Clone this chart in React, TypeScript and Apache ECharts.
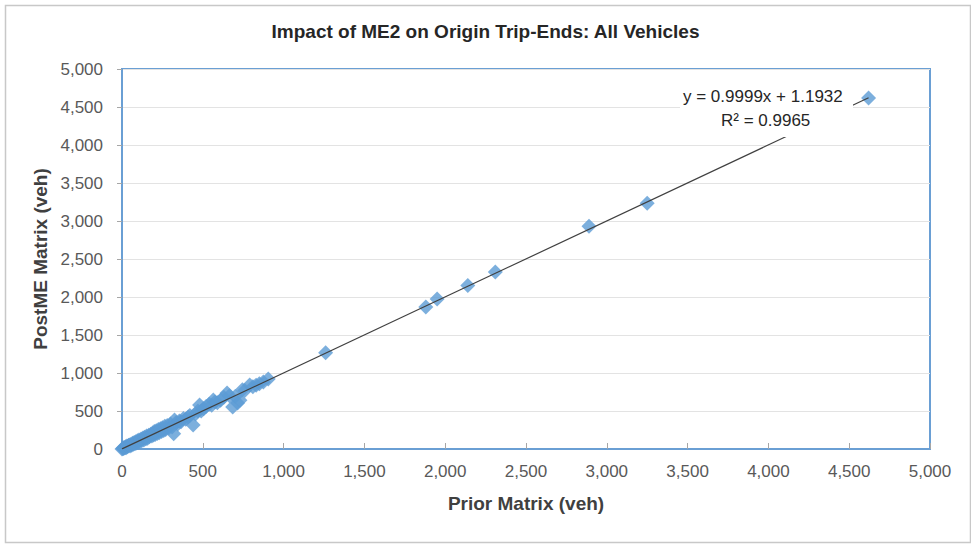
import React, { useEffect, useRef } from "react";
import * as echarts from "echarts";

const chartTitle = "Impact of ME2 on Origin Trip-Ends: All Vehicles";
const xAxisName = "Prior Matrix (veh)";
const yAxisName = "PostME Matrix (veh)";

const priorValues = [
  0, 5, 10, 12, 18, 22, 25, 30, 35, 40, 45, 50, 55, 60, 65, 70, 75, 80, 85, 90, 95, 100,
  105, 110, 118, 122, 130, 135, 140, 148, 152, 158, 165, 170, 178, 185, 190, 195, 200, 205,
  212, 218, 225, 230, 238, 245, 250, 258, 265, 270, 280, 290, 300, 310, 320, 325, 335, 345,
  355, 365, 380, 395, 410, 420, 440, 455, 470, 480, 490, 505, 520, 540, 555, 565, 575, 590,
  610, 630, 650, 665, 685, 700, 715, 730, 745, 760, 790, 810, 830, 850, 875, 905,
  1260, 1880, 1950, 2140, 2310, 2890, 3250, 4620,
];
const postValues = [
  0, 8, 6, 20, 15, 30, 18, 40, 28, 45, 52, 38, 60, 48, 75, 62, 85, 70, 95, 80, 110, 88,
  120, 100, 130, 108, 145, 120, 155, 135, 170, 140, 180, 160, 195, 170, 210, 185, 230, 190,
  240, 205, 255, 215, 265, 230, 280, 245, 300, 255, 310, 280, 330, 290, 200, 380, 350, 330,
  370, 360, 400, 390, 420, 440, 316, 460, 500, 579, 500, 530, 560, 590, 575, 645, 620, 610,
  640, 680, 737, 700, 553, 690, 605, 640, 780, 770, 842, 820, 840, 860, 880, 920,
  1265, 1870, 1975, 2150, 2330, 2930, 3235, 4620,
];

const trendSlope = 0.9999;
const trendIntercept = 1.1932;
const trendText = ["y = 0.9999x + 1.1932", "R² = 0.9965"];

export default function App() {
  const ref = useRef<HTMLDivElement>(null);
  useEffect(() => {
    document.body.style.margin = "0";
    const chart = echarts.init(ref.current!, null, { renderer: "svg" });
    const points = priorValues.map((x, i) => [x, postValues[i]]);
    const xMaxData = Math.max(...priorValues);
    const trend = [
      [0, trendIntercept],
      [xMaxData, trendSlope * xMaxData + trendIntercept],
    ];
    const fmt = (v: number) => v.toLocaleString("en-US");
    const font = "Liberation Sans";
    const axisLabel = { color: "#595959", fontSize: 17, fontFamily: font, formatter: fmt };
    const nameStyle = { fontFamily: font, fontSize: 19, fontWeight: "bold", color: "#404040" };
    chart.setOption({
      animation: false,
      backgroundColor: "#ffffff",
      title: {
        text: chartTitle,
        left: "center",
        top: 17,
        textStyle: { fontFamily: font, fontSize: 19, fontWeight: "bold", color: "#262626" },
      },
      grid: {
        left: 122,
        right: 41,
        top: 69,
        bottom: 95,
        show: true,
        borderColor: "#6a9fd4",
        borderWidth: 2,
      },
      xAxis: {
        type: "value",
        min: 0,
        max: 5000,
        interval: 500,
        name: xAxisName,
        nameLocation: "middle",
        nameGap: 45,
        nameTextStyle: nameStyle,
        axisLine: { show: true, lineStyle: { color: "#6a9fd4", width: 2 } },
        axisTick: { show: true, inside: true, length: 6, lineStyle: { color: "#a6a6a6" } },
        splitLine: { show: false },
        axisLabel: { ...axisLabel, margin: 14 },
      },
      yAxis: {
        type: "value",
        min: 0,
        max: 5000,
        interval: 500,
        name: yAxisName,
        nameLocation: "middle",
        nameGap: 70,
        nameTextStyle: nameStyle,
        axisLine: { show: true, lineStyle: { color: "#6a9fd4", width: 2 } },
        axisTick: { show: true, length: 5, lineStyle: { color: "#a6a6a6" } },
        splitLine: { show: true, lineStyle: { color: "#e3e3e3" } },
        axisLabel: { ...axisLabel, margin: 19 },
      },
      series: [
        {
          type: "scatter",
          data: points,
          symbol: "diamond",
          symbolSize: 15,
          itemStyle: { color: "#5b9bd5" },
          z: 2,
        },
        {
          type: "line",
          data: trend,
          symbol: "none",
          lineStyle: { color: "#404040", width: 1.2 },
          z: 3,
        },
      ],
      graphic: [
        {
          type: "rect",
          left: 3,
          top: 3,
          shape: { width: 965, height: 537 },
          style: { fill: "none", stroke: "#c8c8c8", lineWidth: 1.5 },
          z: -1,
        },
        {
          type: "rect",
          left: 680,
          top: 86,
          shape: { width: 173, height: 51 },
          style: { fill: "#ffffff" },
          z: 50,
        },
        {
          type: "text",
          left: 683,
          top: 88,
          style: { text: trendText[0], fill: "#262626", fontSize: 17, fontFamily: font },
          z: 51,
        },
        {
          type: "text",
          left: 721,
          top: 112,
          style: { text: trendText[1], fill: "#262626", fontSize: 17, fontFamily: font },
          z: 51,
        },
      ],
    });
    return () => chart.dispose();
  }, []);
  return <div ref={ref} style={{ width: 971, height: 544 }} />;
}
